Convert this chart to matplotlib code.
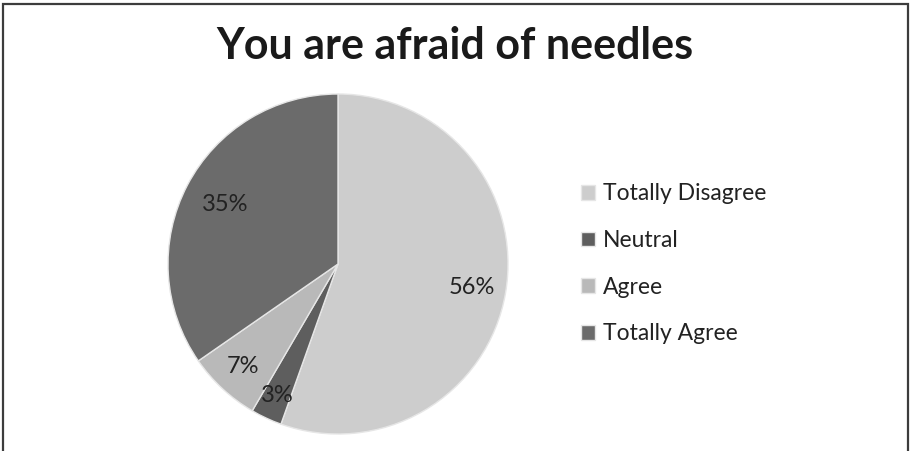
import numpy as np
import matplotlib as mpl
mpl.use('Agg')
import matplotlib.pyplot as plt
from matplotlib.patches import Rectangle

# Data
categories = ['Totally Disagree', 'Neutral', 'Agree', 'Totally Agree']
shares = [56, 3, 7, 35]
title = 'You are afraid of needles'

plt.rcParams['font.family'] = ['Lato', 'DejaVu Sans']

# Style
colors = ['#cdcdcd', '#5e5e5e', '#b9b9b9', '#6b6b6b']
label_radius = [0.80, 0.85, 0.82, 0.75]

W, H = 911, 451
fig = plt.figure(figsize=(W / 100, H / 100), dpi=100)
fig.patch.set_facecolor('white')

# chart frame
fig.patches.append(Rectangle((3 / W, -0.05), 905 / W, (H - 4) / H + 0.05,
                             transform=fig.transFigure, fill=False,
                             edgecolor='#3c3c3c', lw=1.6))

fig.text(455 / W, 1 - 46 / H, title, ha='center', va='center',
         fontsize=31, fontweight='bold', color='#1a1a1a')

ax = fig.add_axes([168 / W, 17 / H, 340 / W, 340 / H])
wedges, _ = ax.pie(shares, colors=colors, startangle=90, counterclock=False,
                   wedgeprops=dict(edgecolor='#e6e6e6', linewidth=1.0))
ax.set_xlim(-1, 1)
ax.set_ylim(-1, 1)
ax.set_aspect('equal')
ax.axis('off')

# data labels
total = float(sum(shares))
cum = 0.0
for v, r in zip(shares, label_radius):
    mid = 90 - (cum + v / 2) / total * 360
    cum += v
    a = np.deg2rad(mid)
    ax.text(r * np.cos(a), r * np.sin(a), '%d%%' % v, ha='center', va='center',
            fontsize=17, color='#222222')

fig.legend(wedges, categories, loc='center left',
           bbox_to_anchor=(581 / W, 1 - 264 / H), frameon=False,
           fontsize=16.5, handlelength=0.6, handleheight=0.6, handletextpad=0.35,
           labelspacing=1.12, borderpad=0, borderaxespad=0,
           labelcolor='#222222')

fig.savefig('out.png', dpi=100)
